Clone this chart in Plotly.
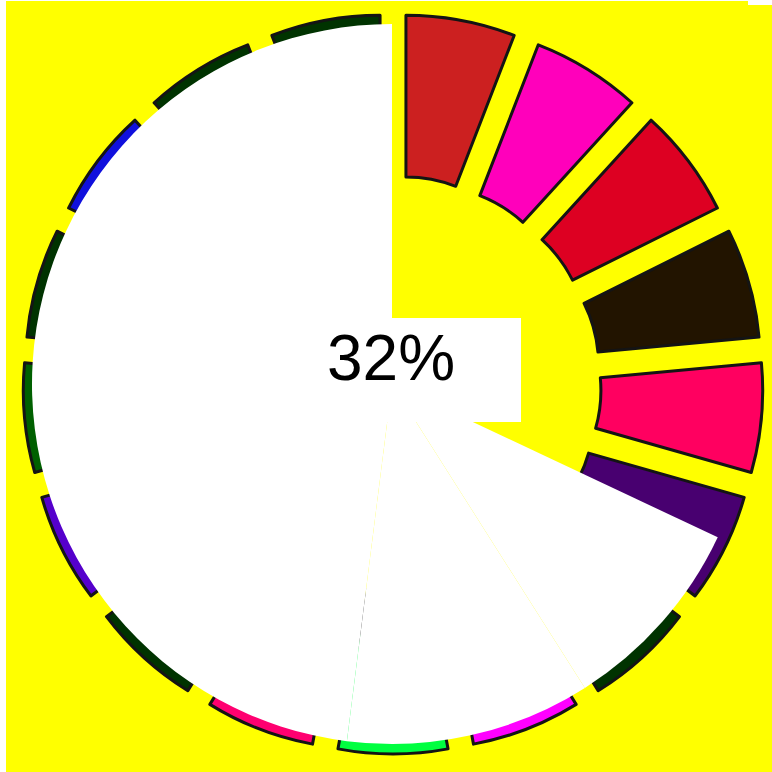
import plotly.graph_objects as go

W = 772
H = 772

# colored ring (17 equal slices, exploded)
ring_labels = ["s1", "s2", "s3", "s4", "s5", "s6", "s7", "s8", "s9",
               "s10", "s11", "s12", "s13", "s14", "s15", "s16", "s17"]
ring_values = [1, 1, 1, 1, 1, 1, 1, 1, 1, 1, 1, 1, 1, 1, 1, 1, 1]
ring_colors = ["#CC2020", "#FF00BB", "#DD0022", "#221400", "#FF0060", "#480070",
               "#003300", "#FF00FF", "#00FF40", "#FF0070", "#003300", "#5500CC",
               "#006000", "#003300", "#1010DD", "#003300", "#003300"]

# white overlay pie
cover_labels = ["shown", "c1", "c2", "c3"]
cover_values = [32, 9, 11, 48]
cover_colors = ["rgba(0,0,0,0)", "white", "white", "white"]

center_text = "32%"


def px_domain(cx, cy, r):
    return dict(x=[(cx - r) / W, (cx + r) / W],
                y=[(H - cy - r) / H, (H - cy + r) / H])


fig = go.Figure()
fig.add_trace(go.Pie(
    labels=ring_labels, values=ring_values, sort=False,
    direction="clockwise", rotation=0,
    hole=0.46, pull=0.235,
    marker=dict(colors=ring_colors, line=dict(color="#141414", width=3)),
    textinfo="none", hoverinfo="none", showlegend=False,
    domain=px_domain(393, 384, 370),
))
fig.add_trace(go.Pie(
    labels=cover_labels, values=cover_values, sort=False,
    direction="clockwise", rotation=0,
    marker=dict(colors=cover_colors, line=dict(width=0)),
    textinfo="none", hoverinfo="none", showlegend=False,
    domain=px_domain(392, 384, 360),
))

shapes = [
    dict(type="rect", xref="paper", yref="paper",
         x0=261 / W, x1=521 / W, y0=(H - 422) / H, y1=(H - 318) / H,
         fillcolor="white", line=dict(width=0), layer="above"),
    dict(type="rect", xref="paper", yref="paper",
         x0=0, x1=6 / W, y0=0, y1=1,
         fillcolor="white", line=dict(width=0), layer="above"),
    dict(type="rect", xref="paper", yref="paper",
         x0=0, x1=1, y0=(H - 1) / H, y1=1,
         fillcolor="white", line=dict(width=0), layer="above"),
    dict(type="rect", xref="paper", yref="paper",
         x0=748 / W, x1=1, y0=(H - 5) / H, y1=1,
         fillcolor="white", line=dict(width=0), layer="above"),
]

fig.update_layout(
    width=W, height=H, autosize=False,
    margin=dict(l=0, r=0, t=0, b=0),
    paper_bgcolor="#FFFF00", plot_bgcolor="#FFFF00",
    shapes=shapes,
    annotations=[dict(
        text=center_text, x=391 / W, y=(H - 358) / H,
        xref="paper", yref="paper", xanchor="center", yanchor="middle",
        showarrow=False,
        font=dict(family="Liberation Sans, Arial, sans-serif", size=64, color="black"),
    )],
)

fig.write_html("out.html", config={"displayModeBar": False},
               post_script="document.body.style.margin='0px';")
